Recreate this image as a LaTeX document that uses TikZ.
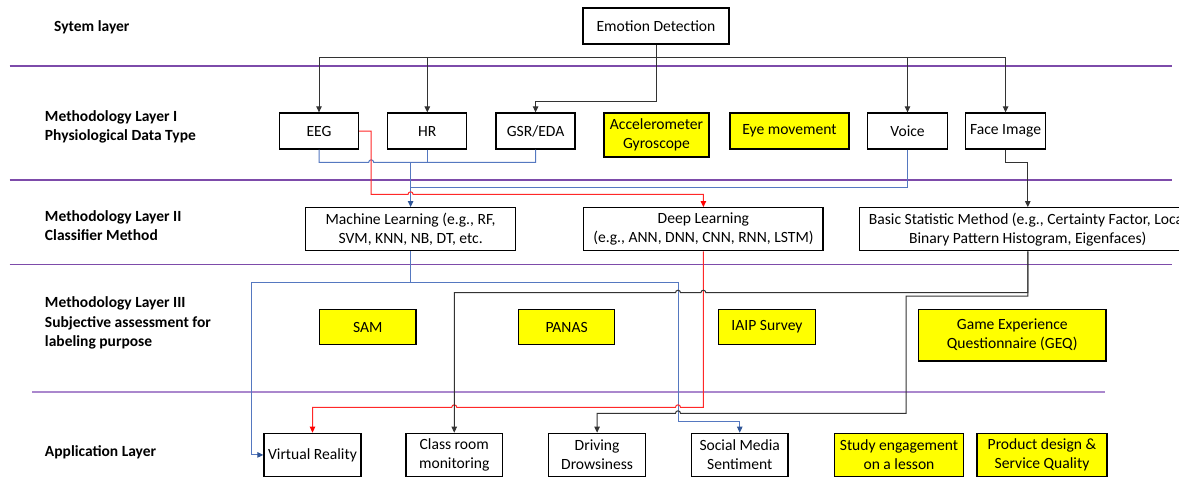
\documentclass[tikz,border=0pt]{standalone}
\usepackage{fontspec}
\setmainfont{Carlito}
\usetikzlibrary{arrows.meta}
\definecolor{purp}{RGB}{125,75,170}
\definecolor{purpl}{RGB}{170,135,205}
\definecolor{bluc}{RGB}{85,120,192}
\definecolor{bluarr}{RGB}{47,85,151}
\definecolor{redc}{RGB}{255,40,40}
\definecolor{yel}{RGB}{255,255,0}
\tikzset{
  every node/.style={font=\fontsize{15.6}{19}\selectfont},
  box/.style={draw=black, line width=1.3pt, fill=white, align=center, inner sep=0pt},
  ybox/.style={box, fill=yel},
  lab/.style={font=\fontsize{15.5}{19.3}\selectfont\bfseries, anchor=west, align=left, inner sep=0pt},
  layer/.style={draw=purp, line width=1.4pt},
  layerl/.style={draw=purpl, line width=1.4pt},
  conn/.style={line width=1pt},
  blkline/.style={conn, draw=black!80},
  bluline/.style={conn, draw=bluc},
  redline/.style={conn, draw=redc},
  arr/.style={-{Triangle[length=6pt,width=5.5pt]}},
  barr/.style={-{Triangle[length=6pt,width=5.5pt,color=bluarr,fill=bluarr]}},
  rarr/.style={-{Triangle[length=6pt,width=5.5pt,color=red,fill=red]}}
}
\begin{document}
\begin{tikzpicture}[x=1pt,y=-1pt]
\useasboundingbox (0,0) rectangle (1179,477);
\clip (0,0) rectangle (1179,477);

% layer separators
\draw[layer] (9.6,66) -- (1172,66);
\draw[layer] (9.6,180) -- (1172,180);
\draw[layer] (9.6,264.3) -- (1172,264.3);
\draw[layerl] (32,392) -- (1105,392);

% layer labels
\node[lab] (l0) at (54,27) {Sytem layer};
\node[lab] (l1) at (44.8,127) {Methodology Layer I\\Physiological Data Type};
\node[lab] (l2) at (44.8,225.5) {Methodology Layer II\\Classifier Method};
\node[lab] (l3) at (44.8,323) {Methodology Layer III\\Subjective assessment for\\labeling purpose};
\node[lab] (l4) at (44.8,452) {Application Layer};

% system layer
\node[box, minimum width=146pt, minimum height=36pt] (ed) at (656,26) {Emotion Detection};

% layer I
\node[box, minimum width=79pt, minimum height=36pt] (eeg) at (319,131) {EEG};
\node[box, minimum width=79pt, minimum height=36pt] (hr) at (427.3,131) {HR};
\node[box, minimum width=79pt, minimum height=36pt] (gsr) at (535.6,131) {GSR/EDA};
\node[ybox, minimum width=105pt, minimum height=44pt] (acc) at (656.5,135) {Accelerometer\\Gyroscope};
\node[ybox, minimum width=119pt, minimum height=36pt] (eye) at (789.5,131) {Eye movement};
\node[box, minimum width=79.6pt, minimum height=36pt] (voice) at (907.5,131) {Voice};
\node[box, minimum width=79.6pt, minimum height=36pt] (face) at (1005.6,131) {\raisebox{-1.5pt}{Face Image}};

% layer II
\node[box, minimum width=210.4pt, minimum height=43pt] (ml) at (410.6,229.2) {Machine Learning (e.g., RF,\\SVM, KNN, NB, DT, etc.};
\node[box, minimum width=239.2pt, minimum height=43pt] (dl) at (703.4,229.2) {Deep Learning\\(e.g., ANN, DNN, CNN, RNN, LSTM)};
\node[box, minimum width=336.4pt, minimum height=43pt] (bsm) at (1027.8,229.2) {Basic Statistic Method (e.g., Certainty Factor, Local\\Binary Pattern Histogram, Eigenfaces)};

% layer III
\node[ybox, minimum width=96.4pt, minimum height=35.4pt] (sam) at (367.8,327) {SAM};
\node[ybox, minimum width=96pt, minimum height=35.4pt] (panas) at (566.6,327) {PANAS};
\node[ybox, minimum width=97pt, minimum height=35.4pt] (iaip) at (767,327) {IAIP Survey};
\node[ybox, minimum width=187.5pt, minimum height=51.7pt] (geq) at (1012.3,335.2) {Game Experience\\Questionnaire (GEQ)};

% application layer
\node[box, minimum width=97pt, minimum height=43.2pt] (vr) at (312.5,454.9) {Virtual Reality};
\node[box, minimum width=96.5pt, minimum height=43.2pt] (crm) at (454.25,454.9) {Class room\\monitoring};
\node[box, minimum width=96.6pt, minimum height=43.2pt] (dd) at (597.1,454.9) {Driving\\Drowsiness};
\node[box, minimum width=96.5pt, minimum height=43.2pt] (sms) at (739.75,454.9) {Social Media\\Sentiment};
\node[ybox, minimum width=129pt, minimum height=43.2pt] (se) at (899,454.9) {Study engagement\\on a lesson};
\node[ybox, minimum width=130pt, minimum height=43.2pt] (pd) at (1042,454.9) {Product design \&\\Service Quality};

% coordinates
\coordinate (bus) at (656,57);
\coordinate (mlj) at (410.6,162.3);
\coordinate (mls) at (410.6,282.3);

% system -> layer I
\draw[blkline, arr] (ed.south) -- (656,101) -| (gsr.north);
\draw[blkline, arr] (bus) -| (eeg.north);
\draw[blkline, arr] (bus) -| (hr.north);
\draw[blkline, arr] (bus) -| (voice.north);
\draw[blkline, arr] (bus) -| (face.north);

% layer I -> layer II
\draw[bluline] (eeg.south) -- (319,162.3) -- (368.7,162.3) arc[start angle=180,end angle=0,radius=2.5pt] -- (535.6,162.3) -- (gsr.south);
\draw[bluline] (hr.south) -- (427.3,162.3);
\draw[bluline, barr] (mlj) -- (ml.north);
\draw[bluline] (voice.south) -- (907.5,187.7) -- (410.6,187.7);
\draw[redline, rarr] (eeg.east) -- (371.2,131) -- (371.2,194.3) -- (408.1,194.3) arc[start angle=180,end angle=0,radius=2.5pt] -- (703.4,194.3) -- (dl.north);
\draw[blkline, arr] (face.south) -- (1005.6,162.3) -| (bsm.north);

% layer II -> application
\draw[bluline, barr] (ml.south) -- (mls) -- (251.8,282.3) -- (251.8,454.9) -- (vr.west);
\draw[bluline, barr] (mls) -- (678,282.3) -- (678,421.7) -| (sms.north);
\draw[redline, rarr] (dl.south) -- (703.4,407.3) -- (680.5,407.3) arc[start angle=0,end angle=180,radius=2.5pt] -- (456.75,407.3) arc[start angle=0,end angle=180,radius=2.5pt] -- (312.5,407.3) -- (vr.north);
\draw[blkline, arr] (bsm.south) -- (1027.8,292.7) -- (705.9,292.7) arc[start angle=0,end angle=180,radius=2.5pt] -- (680.5,292.7) arc[start angle=0,end angle=180,radius=2.5pt] -- (454.25,292.7) -- (crm.north);
\draw[blkline, arr] (bsm.south) -- (1027.8,296) -- (906,296) -- (906,413.3) -- (680.5,413.3) arc[start angle=0,end angle=180,radius=2.5pt] -- (597.1,413.3) -- (dd.north);
\end{tikzpicture}
\end{document}
